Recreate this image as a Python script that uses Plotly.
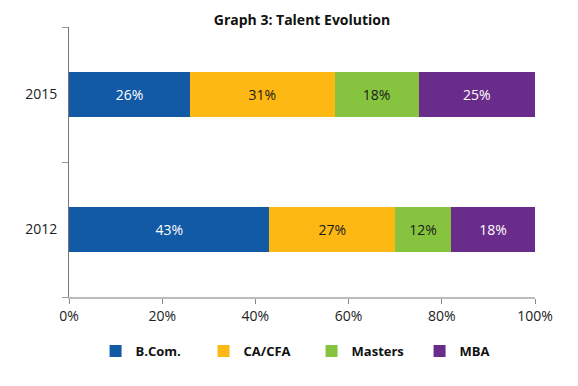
import plotly.graph_objects as go

years = ["2012", "2015"]
series_names = ["B.Com.", "CA/CFA", "Masters", "MBA"]
bcom = [43, 26]
cacfa = [27, 31]
masters = [12, 18]
mba = [18, 25]
colors = ["#1259A6", "#FDB813", "#86C440", "#6A2C8A"]
text_colors = ["white", "#1a1a1a", "#1a1a1a", "white"]
x_ticks = [0, 20, 40, 60, 80, 100]
x_tick_labels = ["0%", "20%", "40%", "60%", "80%", "100%"]

FONT = "Open Sans"

fig = go.Figure()
for name, vals, col, tc in zip(series_names, [bcom, cacfa, masters, mba], colors, text_colors):
    fig.add_trace(go.Bar(
        name=name, y=years, x=vals, orientation="h",
        marker=dict(color=col, line=dict(width=0)),
        text=[f"{v}%" for v in vals], textposition="inside",
        insidetextanchor="middle",
        textfont=dict(color=tc, size=14, family=FONT),
        hoverinfo="skip",
    ))

fig.update_layout(
    width=578, height=386,
    barmode="stack", bargap=0.667,
    margin=dict(l=69, r=43, t=27, b=89, autoexpand=False),
    paper_bgcolor="white", plot_bgcolor="white",
    font=dict(family=FONT, size=14, color="#222"),
    title=dict(text="<b>Graph 3: Talent Evolution</b>", x=0.5, xref="paper",
               xanchor="center", y=0.948, yanchor="middle",
               font=dict(size=14, family=FONT, color="#111")),
    legend=dict(orientation="h", x=0.057, xanchor="left", y=-0.145, yanchor="top",
                font=dict(size=13, family=FONT, color="#111", weight="bold"),
                entrywidth=63, traceorder="normal"),
    xaxis=dict(range=[0, 100], tickvals=x_ticks, ticktext=x_tick_labels,
               showgrid=False, zeroline=False, showline=True, linecolor="#bbbbbb",
               linewidth=1.5, ticks="outside", ticklen=5, tickcolor="#888",
               tickfont=dict(size=14, color="#222")),
    yaxis=dict(type="category", categoryorder="array", categoryarray=years,
               range=[-0.5, 1.5], showgrid=False, zeroline=False, showline=True,
               linecolor="#777", linewidth=1, ticks="outside", ticklen=6,
               tickcolor="#999", tickson="boundaries", ticklabelstandoff=8,
               tickfont=dict(size=14, color="#222")),
)

fig.write_html("out.html", config={"displayModeBar": False},
               post_script="document.body.style.margin='0';")
